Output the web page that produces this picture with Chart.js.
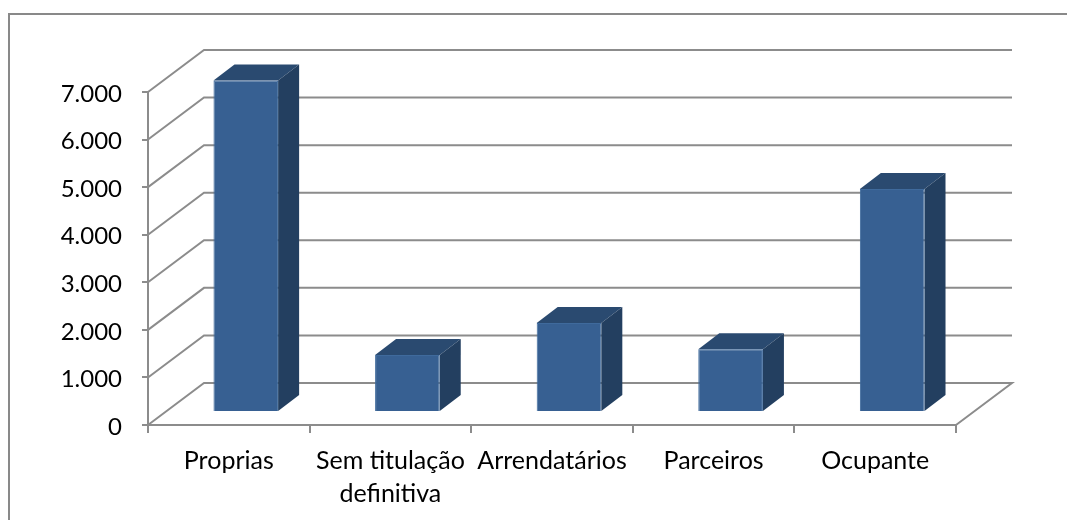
<!DOCTYPE html>
<html>
<head>
<meta charset="utf-8">
<script src="https://cdn.jsdelivr.net/npm/chart.js@4"></script>
<style>
  html, body { margin: 0; padding: 0; background: #fff; }
  #wrap { position: relative; width: 1067px; height: 520px; overflow: hidden; }
  #frame { position: absolute; left: 8px; top: 13px; width: 1100px; height: 560px; border: 2px solid #898989; box-sizing: border-box; }
  #chart { position: absolute; left: 0; top: 0; }
</style>
</head>
<body>
<div id="wrap">
  <div id="frame"></div>
  <canvas id="chart" width="1067" height="520"></canvas>
</div>
<script>
const categories = [["Proprias"], ["Sem titulação", "definitiva"], ["Arrendatários"], ["Parceiros"], ["Ocupante"]];
const values = [6970, 1200, 1870, 1320, 4690];
const yTickLabels = ["0", "1.000", "2.000", "3.000", "4.000", "5.000", "6.000", "7.000"];

const gridColor = "#8c8c8c";
const frontColor = "#376092";
const topColor = "#2a4a70";
const sideColor = "#233f60";

// depth of the floor and of the bars, in pixels
const wallDepth = { x: 56, y: -42 };
const barShift = { x: 17, y: -13 };
const barDepth = { x: 21, y: -16 };

const fakeThreeD = {
    id: "fakeThreeD",
    beforeDatasetsDraw(chart) {
        const { ctx, chartArea, scales } = chart;
        ctx.save();
        ctx.strokeStyle = gridColor;
        ctx.lineWidth = 2;
        scales.y.ticks.forEach(tick => {
            const y = scales.y.getPixelForValue(tick.value);
            ctx.beginPath();
            ctx.moveTo(chartArea.left, y);
            ctx.lineTo(chartArea.left + wallDepth.x, y + wallDepth.y);
            ctx.lineTo(chartArea.right + wallDepth.x, y + wallDepth.y);
            if (tick.value === 0) {
                ctx.lineTo(chartArea.right, y);
            }
            ctx.stroke();
        });
        ctx.restore();
    },
    beforeDatasetDraw(chart) {
        const { ctx } = chart;
        ctx.save();
        ctx.translate(barShift.x, barShift.y);
        chart.getDatasetMeta(0).data.forEach(bar => {
            const left = bar.x - bar.width / 2;
            const right = bar.x + bar.width / 2;
            ctx.fillStyle = topColor;
            ctx.beginPath();
            ctx.moveTo(left, bar.y);
            ctx.lineTo(left + barDepth.x, bar.y + barDepth.y);
            ctx.lineTo(right + barDepth.x, bar.y + barDepth.y);
            ctx.lineTo(right, bar.y);
            ctx.closePath();
            ctx.fill();
            ctx.fillStyle = sideColor;
            ctx.beginPath();
            ctx.moveTo(right, bar.y);
            ctx.lineTo(right + barDepth.x, bar.y + barDepth.y);
            ctx.lineTo(right + barDepth.x, bar.base + barDepth.y);
            ctx.lineTo(right, bar.base);
            ctx.closePath();
            ctx.fill();
        });
    },
    afterDatasetDraw(chart) {
        chart.ctx.restore();
    }
};

new Chart(document.getElementById("chart"), {
    type: "bar",
    data: {
        labels: categories,
        datasets: [{
            data: values,
            backgroundColor: frontColor,
            borderColor: "#3f6a9c",
            borderWidth: 1,
            barPercentage: 0.4,
            categoryPercentage: 1
        }]
    },
    options: {
        responsive: false,
        animation: false,
        layout: { padding: { left: 0, top: 92, right: 111, bottom: 0 } },
        plugins: { legend: { display: false }, tooltip: { enabled: false } },
        scales: {
            x: {
                afterFit(scale) { scale.height = 95; },
                border: { color: gridColor, width: 2 },
                grid: { offset: true, drawOnChartArea: false, color: gridColor, lineWidth: 2, tickLength: 8 },
                ticks: { color: "#000", padding: 11, maxRotation: 0, autoSkip: false, font: { family: "Lato", size: 25, lineHeight: 1.32 } }
            },
            y: {
                min: 0,
                max: 7000,
                afterFit(scale) { scale.width = 148; },
                border: { color: gridColor, width: 2 },
                grid: { drawOnChartArea: false, color: gridColor, lineWidth: 2, tickLength: 6 },
                ticks: {
                    stepSize: 1000,
                    color: "#000",
                    padding: 20,
                    labelOffset: 2,
                    font: { family: "Lato", size: 24 },
                    callback: (value, index) => yTickLabels[index]
                }
            }
        }
    },
    plugins: [fakeThreeD]
});
</script>
</body>
</html>
